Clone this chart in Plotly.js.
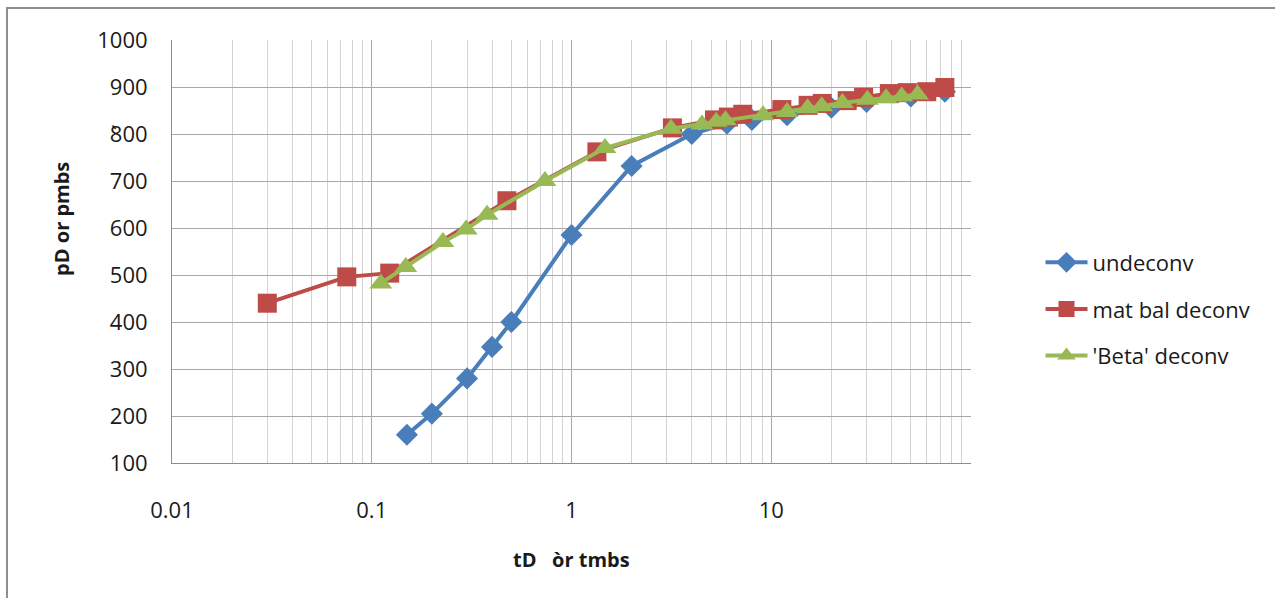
<!DOCTYPE html>
<html><head><meta charset="utf-8">
<script src="https://cdn.plot.ly/plotly-3.0.1.min.js"></script>
<style>
html,body{margin:0;padding:0;background:#fff;overflow:hidden}
#chart{position:absolute;left:0;top:0;width:1275px;height:598px}
#frame{position:absolute;left:6px;top:7px;width:1300px;height:620px;border-top:2px solid #8e8e8e;border-left:2px solid #8e8e8e;pointer-events:none}
</style></head><body>
<div id="chart"></div><div id="frame"></div>
<script>
// Series data
const undeconvT = [0.15, 0.2, 0.3, 0.4, 0.5, 1, 2, 4, 6, 8, 12, 20, 30, 50, 74];
const undeconvP = [160, 205, 280, 347, 400, 585, 732, 800, 822, 830, 840, 856, 868, 880, 890];

const matBalT = [0.03, 0.075, 0.123, 0.475, 1.34, 3.2, 5.2, 6.1, 7.2, 11.3, 15.3, 18, 24, 29, 39, 48, 60, 74];
const matBalP = [440, 496, 504, 658, 762, 813, 830, 836, 842, 852, 861, 865, 871, 878, 886, 888, 890, 899];

const betaT = [0.111, 0.148, 0.227, 0.297, 0.378, 0.736, 1.47, 3.15, 4.5, 5.3, 5.9, 9.1, 12, 15.2, 17.9, 22.7, 30.3, 37.6, 45, 54];
const betaP = [482, 517, 570, 597, 628, 700, 770, 811, 820, 826, 829, 840, 847, 855, 859, 866, 873, 876, 880, 884];

const seriesNames = ["undeconv", "mat bal deconv", "'Beta' deconv"];

const xTickVals = [0.01, 0.1, 1, 10, 100];
const xTickText = ["0.01", "0.1", "1", "10", ""];
const yTickVals = [100, 200, 300, 400, 500, 600, 700, 800, 900, 1000];
const yTickText = ["100", "200", "300", "400", "500", "600", "700", "8\u030000", "900", "1000"];

const xTitle = "tD\u00a0\u00a0 o\u0300r tmbs";
const yTitle = "pD or pmbs";

// minor grid positions on log axis (2..9 in each decade)
const minorVals = [];
for (let e = -2; e <= 1; e++) for (let d = 2; d <= 9; d++) minorVals.push(d * Math.pow(10, e));

const FONT = "'Open Sans', 'Noto Sans', sans-serif";
const TXT = '#1a1a1a';

const traces = [
  {x: undeconvT, y: undeconvP, name: seriesNames[0], type: 'scatter', mode: 'lines+markers',
   line: {color: '#4A7EBB', width: 4}, marker: {symbol: 'diamond', size: 17, color: '#4A7EBB'},
   legendgroup: 'a'},
  {x: matBalT, y: matBalP, name: seriesNames[1], type: 'scatter', mode: 'lines+markers',
   line: {color: '#BE4B48', width: 4}, marker: {symbol: 'square', size: 19, color: '#BE4B48'},
   legendgroup: 'b'},
  {x: betaT, y: betaP, name: seriesNames[2], type: 'scatter', mode: 'lines+markers',
   line: {color: '#98B954', width: 4}, marker: {symbol: 'triangle-up', size: 20, color: '#98B954'},
   legendgroup: 'c'}
];

const layout = {
  width: 1275, height: 598,
  margin: {l: 172, r: 304, t: 40, b: 135, pad: 0},
  paper_bgcolor: '#ffffff', plot_bgcolor: '#ffffff',
  font: {family: FONT, color: TXT, size: 21},
  showlegend: true,
  legend: {x: 1.087, xanchor: 'left', y: 0.364, yanchor: 'middle',
           font: {family: FONT, size: 22, color: TXT}, itemwidth: 42,
           traceorder: 'grouped', tracegroupgap: 15, bgcolor: 'rgba(0,0,0,0)'},
  xaxis: {type: 'log', range: [-2, 2], tickmode: 'array', tickvals: xTickVals, ticktext: xTickText,
          showgrid: true, gridcolor: '#a8a8a8', gridwidth: 1,
          showline: true, linecolor: '#8c8c8c', linewidth: 1,
          ticks: '', ticklabelstandoff: 28, zeroline: false,
          tickfont: {family: FONT, size: 22, color: TXT},
          minor: {tickmode: 'array', tickvals: minorVals, showgrid: true, gridcolor: '#d2d2d2', gridwidth: 1, ticks: ''}},
  yaxis: {range: [100, 1000], tickmode: 'array', tickvals: yTickVals, ticktext: yTickText,
          showgrid: true, gridcolor: '#a8a8a8', gridwidth: 1,
          showline: true, linecolor: '#8c8c8c', linewidth: 1,
          ticks: '', ticklabelstandoff: 19, zeroline: false,
          tickfont: {family: FONT, size: 22, color: TXT}},
  annotations: [
    {text: '<b>' + xTitle + '</b>', xref: 'paper', yref: 'paper', x: 0.4994, y: -0.229,
     xanchor: 'center', yanchor: 'middle', showarrow: false, font: {family: FONT, size: 20, color: TXT}},
    {text: '<b>' + yTitle + '</b>', xref: 'paper', yref: 'paper', x: -0.1377, y: 0.577,
     xanchor: 'center', yanchor: 'middle', textangle: -90, showarrow: false, font: {family: FONT, size: 20, color: TXT}}
  ]
};

Plotly.newPlot('chart', traces, layout, {displayModeBar: false, staticPlot: true});
</script>
</body></html>
